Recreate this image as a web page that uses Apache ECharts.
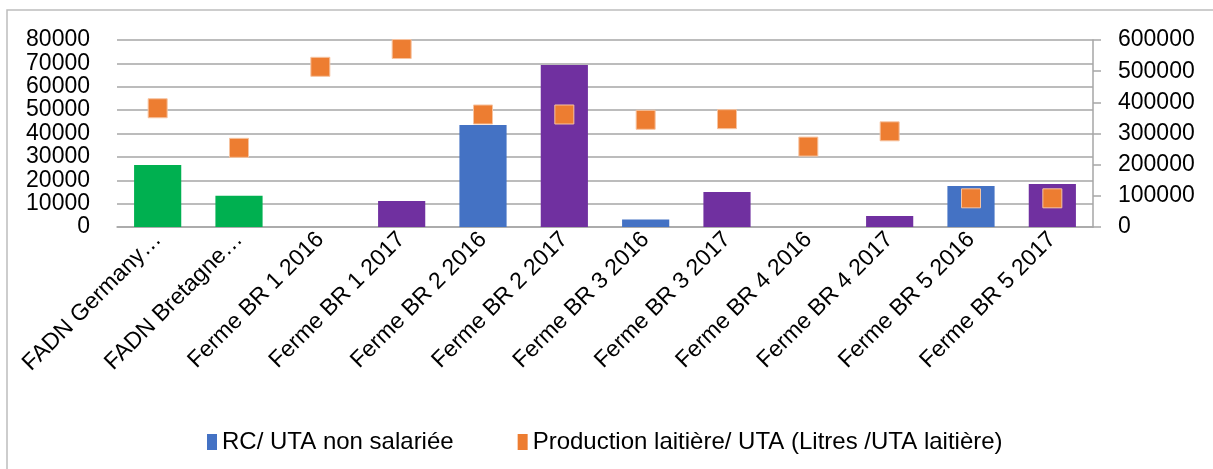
<!DOCTYPE html>
<html>
<head>
<meta charset="utf-8">
<script src="https://cdn.jsdelivr.net/npm/echarts@6/dist/echarts.min.js"></script>
<style>
  html, body { margin: 0; padding: 0; background: #fff; }
  #chart { width: 1213px; height: 469px; }
</style>
</head>
<body>
<div id="chart"></div>
<script>
// données
var categories = ['FADN Germany…', 'FADN Bretagne…', 'Ferme BR 1 2016', 'Ferme BR 1 2017',
    'Ferme BR 2 2016', 'Ferme BR 2 2017', 'Ferme BR 3 2016', 'Ferme BR 3 2017',
    'Ferme BR 4 2016', 'Ferme BR 4 2017', 'Ferme BR 5 2016', 'Ferme BR 5 2017']

var rcUta = [26500, 13400, 0, 11100, 43600, 69300, 3200, 15000, 0, 4700, 17500, 18400] // axe gauche
var prodLait = [381000, 254000, 514000, 571000, 361000, 361000, 344000, 346000, 258000, 307000, 92000, 92000] // axe droit

var leftTicks = [0, 80000, 10000]   // min, max, pas
var rightTicks = [0, 600000, 100000]

var police = "'Liberation Sans', Arial, sans-serif"

// couleur de barre selon la catégorie : FADN vert, 2016 bleu, 2017 violet
function couleurBarre(nom) {
    if (nom.indexOf('FADN') == 0) return '#00B050'
    if (nom.indexOf('2016') > 0) return '#4472C4'
    return '#7030A0'
}

// nombres sans séparateur de milliers
function brut(v) { return String(v) }

// labels des axes de valeurs (23px : au-delà ECharts en masque une partie)
var labelValeur = {
    fontSize: 23, color: '#000', formatter: brut,
    showMinLabel: true, showMaxLabel: true
}

var chart = echarts.init(document.getElementById('chart'))
chart.setOption({
    animation: false,
    textStyle: { fontFamily: police, color: '#000' },
    graphic: [{
        type: 'rect',
        shape: { x: 7, y: 10, width: 1400, height: 600 },
        style: { fill: 'none', stroke: '#bdbdbd', lineWidth: 1.5 }
    }],
    grid: { left: 117, right: 120, top: 40, bottom: 242 },
    legend: {
        left: 202,
        top: 425,
        icon: 'rect',
        itemWidth: 10,
        itemHeight: 16,
        itemGap: 64,
        itemStyle: { borderWidth: 0 },
        textStyle: { fontFamily: police, fontSize: 24, color: '#000' },
        data: ['RC/ UTA non salariée', 'Production laitière/ UTA (Litres /UTA laitière)']
    },
    xAxis: {
        type: 'category',
        data: categories,
        axisLine: { lineStyle: { color: '#a6a6a6', width: 1.5 } },
        axisTick: { show: false },
        axisLabel: { rotate: 45, fontSize: 23, color: '#000', margin: 9, interval: 0 }
    },
    yAxis: [{
        type: 'value',
        min: leftTicks[0], max: leftTicks[1], interval: leftTicks[2],
        axisLine: { show: false },
        axisTick: { show: false },
        axisLabel: Object.assign({ margin: 27 }, labelValeur),
        splitLine: { lineStyle: { color: '#a6a6a6', width: 1.5 } }
    }, {
        type: 'value',
        min: rightTicks[0], max: rightTicks[1], interval: rightTicks[2],
        axisLine: { show: true, lineStyle: { color: '#a6a6a6', width: 1.5 } },
        axisTick: { show: true, length: 8, lineStyle: { color: '#a6a6a6', width: 1.5 } },
        axisLabel: Object.assign({ margin: 25 }, labelValeur),
        splitLine: { show: false }
    }],
    series: [{
        name: 'RC/ UTA non salariée',
        type: 'bar',
        yAxisIndex: 0,
        barWidth: '58%',
        itemStyle: { color: '#4472C4' },
        data: rcUta.map(function (v, i) {
            return { value: v, itemStyle: { color: couleurBarre(categories[i]) } }
        })
    }, {
        name: 'Production laitière/ UTA (Litres /UTA laitière)',
        type: 'scatter',
        yAxisIndex: 1,
        symbol: 'rect',
        symbolSize: 19,
        itemStyle: { color: '#ED7D31', borderColor: '#f6c3a0', borderWidth: 1, opacity: 1 },
        data: prodLait
    }]
})
</script>
</body>
</html>
